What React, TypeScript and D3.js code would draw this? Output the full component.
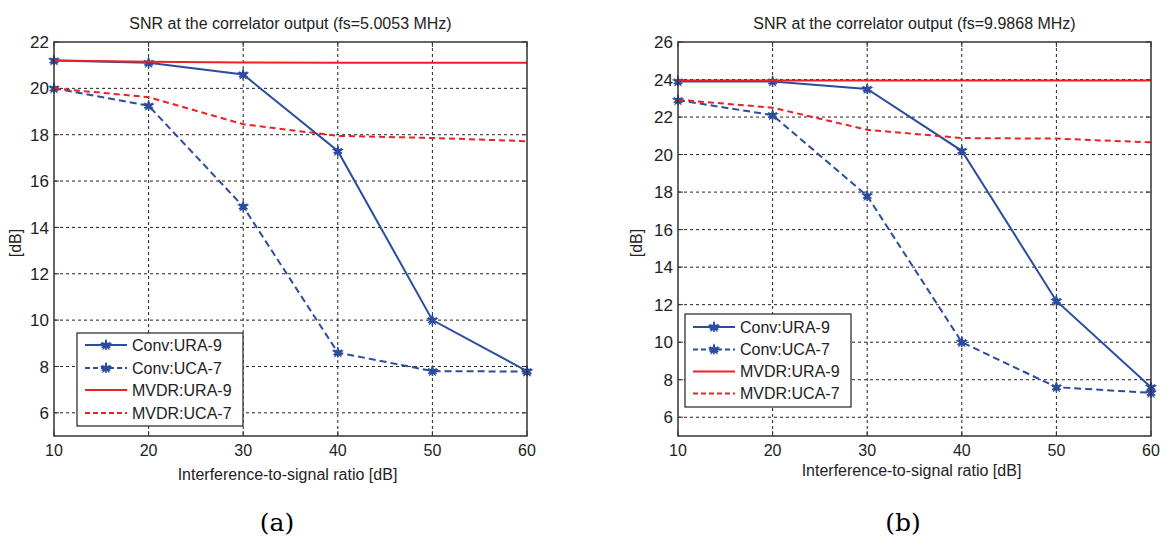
import React from "react";
import * as d3 from "d3";

// Interference-to-signal ratio [dB]
const isr = [10, 20, 30, 40, 50, 60];

// Panel (a): fs = 5.0053 MHz
const convUraA = [21.2, 21.1, 20.6, 17.3, 10.0, 7.8];
const convUcaA = [20.0, 19.25, 14.9, 8.6, 7.8, 7.78];
const mvdrUraA = [21.2, 21.15, 21.12, 21.1, 21.1, 21.1];
const mvdrUcaA = [20.0, 19.62, 18.45, 17.95, 17.86, 17.72];

// Panel (b): fs = 9.9868 MHz
const convUraB = [23.9, 23.9, 23.5, 20.2, 12.2, 7.6];
const convUcaB = [22.9, 22.1, 17.8, 10.0, 7.6, 7.3];
const mvdrUraB = [23.95, 23.95, 23.95, 23.95, 23.95, 23.95];
const mvdrUcaB = [22.92, 22.5, 21.32, 20.88, 20.85, 20.65];

const seriesNames = ["Conv:URA-9", "Conv:UCA-7", "MVDR:URA-9", "MVDR:UCA-7"];
const yTicksA = [6, 8, 10, 12, 14, 16, 18, 20, 22];
const yTicksB = [6, 8, 10, 12, 14, 16, 18, 20, 22, 24, 26];
const titleA = "SNR at the correlator output (fs=5.0053 MHz)";
const titleB = "SNR at the correlator output (fs=9.9868 MHz)";
const xLabel = "Interference-to-signal ratio [dB]";
const yLabel = "[dB]";

const BLUE = "#2b4c9f";
const RED = "#ee2024";
const FONT = "'Liberation Sans', Arial, Helvetica, sans-serif";

type PanelProps = {
  left: number;
  right: number;
  top: number;
  bottom: number;
  yMax: number;
  yTicks: number[];
  title: string;
  series: number[][];
  legend: { x: number; y: number; w: number; h: number; rowY: number[] };
  xLabelY: number;
  yLabelX: number;
  tag: string;
  tagX: number;
};

const styles = [
  { color: BLUE, dash: null as string | null, marker: true },
  { color: BLUE, dash: "7,4", marker: true },
  { color: RED, dash: null as string | null, marker: false },
  { color: RED, dash: "6,4", marker: false },
];

function Marker({ x, y, color }: { x: number; y: number; color: string }) {
  const star = d3.symbol().type(d3.symbolStar).size(48)();
  const ast = d3.symbol().type(d3.symbolAsterisk).size(70)();
  return (
    <g transform={`translate(${x},${y})`}>
      <path d={star || ""} fill={color} />
      <path d={ast || ""} fill="none" stroke={color} strokeWidth={1.6} />
    </g>
  );
}

function Panel(p: PanelProps) {
  const x = d3.scaleLinear().domain([10, 60]).range([p.left, p.right]);
  const y = d3.scaleLinear().domain([5, p.yMax]).range([p.bottom, p.top]);
  const line = d3
    .line<[number, number]>()
    .x((d) => x(d[0]))
    .y((d) => y(d[1]));
  const tk = 5;
  const cx = (p.left + p.right) / 2;
  return (
    <g fontFamily={FONT} fill="#222">
      {/* grid */}
      {isr.slice(1, -1).map((v) => (
        <line key={"gx" + v} x1={x(v)} x2={x(v)} y1={p.top} y2={p.bottom}
          stroke="#222" strokeWidth={1} strokeDasharray="3,3" />
      ))}
      {p.yTicks.filter((v) => v < p.yMax).map((v) => (
        <line key={"gy" + v} x1={p.left} x2={p.right} y1={y(v)} y2={y(v)}
          stroke="#222" strokeWidth={1} strokeDasharray="3,3" />
      ))}
      {/* ticks */}
      {isr.map((v) => (
        <g key={"tx" + v}>
          <line x1={x(v)} x2={x(v)} y1={p.bottom} y2={p.bottom - tk} stroke="#333" />
          <line x1={x(v)} x2={x(v)} y1={p.top} y2={p.top + tk} stroke="#333" />
          <text x={x(v)} y={456} textAnchor="middle" fontSize={16}>{v}</text>
        </g>
      ))}
      {p.yTicks.map((v) => (
        <g key={"ty" + v}>
          <line x1={p.left} x2={p.left + tk} y1={y(v)} y2={y(v)} stroke="#333" />
          <line x1={p.right} x2={p.right - tk} y1={y(v)} y2={y(v)} stroke="#333" />
          <text x={p.left - 5} y={y(v)} dy="0.36em" textAnchor="end" fontSize={17}>{v}</text>
        </g>
      ))}
      {/* series */}
      {p.series.map((vals, i) => {
        const pts = isr.map((v, j) => [v, vals[j]] as [number, number]);
        const s = styles[i];
        return (
          <g key={"s" + i}>
            <path d={line(pts) || ""} fill="none" stroke={s.color} strokeWidth={2}
              strokeDasharray={s.dash || undefined} />
            {s.marker && pts.map((d, j) => (
              <Marker key={j} x={x(d[0])} y={y(d[1])} color={s.color} />
            ))}
          </g>
        );
      })}
      {/* frame */}
      <rect x={p.left} y={p.top} width={p.right - p.left} height={p.bottom - p.top}
        fill="none" stroke="#333" strokeWidth={1.5} />
      {/* legend */}
      <rect x={p.legend.x} y={p.legend.y} width={p.legend.w} height={p.legend.h}
        fill="#fff" stroke="#333" strokeWidth={1.3} />
      {seriesNames.map((name, i) => {
        const ry = p.legend.rowY[i];
        const s = styles[i];
        const lx0 = p.legend.x + 8;
        const lx1 = lx0 + 42;
        return (
          <g key={"lg" + i}>
            <line x1={lx0} x2={lx1} y1={ry} y2={ry} stroke={s.color} strokeWidth={2}
              strokeDasharray={s.dash ? "5,3" : undefined} />
            {s.marker && <Marker x={(lx0 + lx1) / 2} y={ry} color={s.color} />}
            <text x={lx1 + 5} y={ry} dy="0.36em" fontSize={16}>{name}</text>
          </g>
        );
      })}
      {/* labels */}
      <text x={cx} y={29} textAnchor="middle" fontSize={16}>{p.title}</text>
      <text x={cx - 3} y={p.xLabelY} textAnchor="middle" fontSize={16}>{xLabel}</text>
      <text transform={`translate(${p.yLabelX},${(p.top + p.bottom) / 2 + 4}) rotate(-90)`}
        textAnchor="middle" dy="0.36em" fontSize={16}>{yLabel}</text>
      <text x={p.tagX} y={531} textAnchor="middle" fontSize={25}
        fontFamily="'Palatino Linotype', 'Book Antiqua', 'DejaVu Serif', 'Liberation Serif', serif"
        fill="#000">{p.tag}</text>
    </g>
  );
}

export default function App() {
  return (
    <svg width={1167} height={538} style={{ position: "absolute", left: 0, top: 0, background: "#fff" }}>
      <rect width={1167} height={538} fill="#fff" />
      <Panel left={54} right={527} top={42} bottom={436} yMax={22} yTicks={yTicksA}
        title={titleA} series={[convUraA, convUcaA, mvdrUraA, mvdrUcaA]}
        legend={{ x: 77, y: 333, w: 166, h: 93, rowY: [345, 368, 390, 413] }}
        xLabelY={480} yLabelX={15} tag="(a)" tagX={277} />
      <Panel left={678} right={1151} top={42} bottom={436} yMax={26} yTicks={yTicksB}
        title={titleB} series={[convUraB, convUcaB, mvdrUraB, mvdrUcaB]}
        legend={{ x: 685, y: 314, w: 166, h: 93, rowY: [327, 349.5, 371.5, 393.5] }}
        xLabelY={476} yLabelX={636} tag="(b)" tagX={903} />
    </svg>
  );
}
